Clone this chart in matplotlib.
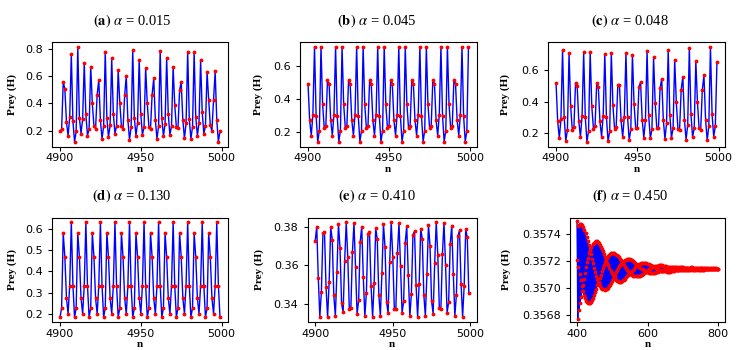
import numpy as np
import matplotlib
matplotlib.use('Agg')
import matplotlib.pyplot as plt
from matplotlib.ticker import FormatStrFormatter

plt.rcParams['mathtext.fontset'] = 'stix'

# ---- data (prey H against step n) ----
n_long = np.arange(4900, 5000)
n_short = np.arange(400, 801)

prey_a = [0.195, 0.21, 0.56, 0.505, 0.265, 0.163, 0.30, 0.76, 0.27, 0.12,
          0.195, 0.815, 0.295, 0.18, 0.285, 0.695, 0.32, 0.165, 0.215, 0.67,
          0.40, 0.235, 0.215, 0.465, 0.575, 0.28, 0.14, 0.235, 0.78, 0.295,
          0.155, 0.24, 0.73, 0.325, 0.18, 0.235, 0.645, 0.405, 0.235, 0.21,
          0.46, 0.60, 0.28, 0.135, 0.225, 0.79, 0.295, 0.165, 0.26, 0.72,
          0.32, 0.17, 0.23, 0.66, 0.40, 0.23, 0.215, 0.465, 0.585, 0.28,
          0.14, 0.235, 0.785, 0.295, 0.16, 0.25, 0.735, 0.32, 0.17, 0.235,
          0.665, 0.39, 0.225, 0.22, 0.50, 0.555, 0.28, 0.145, 0.255, 0.78,
          0.285, 0.14, 0.23, 0.78, 0.30, 0.165, 0.255, 0.715, 0.335, 0.18,
          0.235, 0.63, 0.425, 0.24, 0.20, 0.425, 0.635, 0.28, 0.12, 0.20]

prey_b = [0.493, 0.273, 0.180, 0.307, 0.715, 0.297, 0.143, 0.210, 0.715, 0.368, 0.226, 0.240, 0.513,
          0.493, 0.273, 0.180, 0.307, 0.715, 0.297, 0.143, 0.210, 0.715, 0.368, 0.226, 0.240, 0.513,
          0.493, 0.273, 0.180, 0.307, 0.715, 0.297, 0.143, 0.210, 0.715, 0.368, 0.226, 0.240, 0.513,
          0.493, 0.273, 0.180, 0.307, 0.715, 0.297, 0.143, 0.210, 0.715, 0.368, 0.226, 0.240, 0.513,
          0.493, 0.273, 0.180, 0.307, 0.715, 0.297, 0.143, 0.210, 0.715, 0.368, 0.226, 0.240, 0.513,
          0.493, 0.273, 0.180, 0.307, 0.715, 0.297, 0.143, 0.210, 0.715, 0.368, 0.226, 0.240, 0.513,
          0.493, 0.273, 0.180, 0.307, 0.715, 0.297, 0.143, 0.210, 0.715, 0.368, 0.226, 0.240, 0.513,
          0.493, 0.273, 0.180, 0.307, 0.715, 0.297, 0.143, 0.210, 0.715]

prey_c = [0.517, 0.277, 0.169, 0.287, 0.725, 0.300, 0.152, 0.220, 0.704, 0.369,
          0.220, 0.240, 0.517, 0.496, 0.275, 0.177, 0.306, 0.710, 0.300, 0.146,
          0.215, 0.712, 0.369, 0.229, 0.246, 0.515, 0.494, 0.275, 0.179, 0.310,
          0.700, 0.304, 0.148, 0.213, 0.708, 0.375, 0.229, 0.240, 0.502, 0.504,
          0.281, 0.175, 0.304, 0.708, 0.302, 0.156, 0.225, 0.696, 0.383, 0.233,
          0.233, 0.494, 0.521, 0.285, 0.171, 0.281, 0.721, 0.312, 0.167, 0.227,
          0.679, 0.390, 0.231, 0.231, 0.483, 0.544, 0.285, 0.163, 0.263, 0.727,
          0.317, 0.171, 0.231, 0.663, 0.396, 0.225, 0.223, 0.475, 0.558, 0.285,
          0.158, 0.252, 0.740, 0.321, 0.175, 0.233, 0.656, 0.396, 0.231, 0.223,
          0.475, 0.567, 0.285, 0.154, 0.248, 0.746, 0.319, 0.179, 0.244, 0.650]

prey_d = [0.184, 0.228, 0.580, 0.468, 0.275, 0.200, 0.333, 0.631, 0.333,
          0.184, 0.228, 0.580, 0.468, 0.275, 0.200, 0.333, 0.631, 0.333,
          0.184, 0.228, 0.580, 0.468, 0.275, 0.200, 0.333, 0.631, 0.333,
          0.184, 0.228, 0.580, 0.468, 0.275, 0.200, 0.333, 0.631, 0.333,
          0.184, 0.228, 0.580, 0.468, 0.275, 0.200, 0.333, 0.631, 0.333,
          0.184, 0.228, 0.580, 0.468, 0.275, 0.200, 0.333, 0.631, 0.333,
          0.184, 0.228, 0.580, 0.468, 0.275, 0.200, 0.333, 0.631, 0.333,
          0.184, 0.228, 0.580, 0.468, 0.275, 0.200, 0.333, 0.631, 0.333,
          0.184, 0.228, 0.580, 0.468, 0.275, 0.200, 0.333, 0.631, 0.333,
          0.184, 0.228, 0.580, 0.468, 0.275, 0.200, 0.333, 0.631, 0.333,
          0.184, 0.228, 0.580, 0.468, 0.275, 0.200, 0.333, 0.631, 0.333,
          0.184]

prey_e = [0.3725, 0.3800, 0.3535, 0.3335, 0.3465, 0.3765, 0.3770, 0.3488, 0.3333, 0.3515,
          0.3795, 0.3733, 0.3445, 0.3340, 0.3565, 0.3813, 0.3690, 0.3405, 0.3358, 0.3622,
          0.3822, 0.3642, 0.3373, 0.3380, 0.3670, 0.3818, 0.3590, 0.3350, 0.3420, 0.3720,
          0.3800, 0.3540, 0.3337, 0.3460, 0.3762, 0.3770, 0.3493, 0.3333, 0.3508, 0.3792,
          0.3735, 0.3448, 0.3340, 0.3560, 0.3812, 0.3695, 0.3410, 0.3355, 0.3615, 0.3822,
          0.3645, 0.3378, 0.3378, 0.3665, 0.3818, 0.3595, 0.3355, 0.3415, 0.3715, 0.3803,
          0.3548, 0.3337, 0.3455, 0.3758, 0.3775, 0.3498, 0.3335, 0.3505, 0.3788, 0.3738,
          0.3450, 0.3338, 0.3555, 0.3810, 0.3700, 0.3415, 0.3352, 0.3610, 0.3822, 0.3655,
          0.3380, 0.3375, 0.3660, 0.3820, 0.3603, 0.3357, 0.3410, 0.3708, 0.3805, 0.3555,
          0.3340, 0.3450, 0.3750, 0.3780, 0.3505, 0.3335, 0.3495, 0.3785, 0.3745, 0.3460]

# panel (f): deviation from the equilibrium, in units of 1e-6
prey_f_base = 0.357142
prey_f_dev = [350, 66, -370, 318, 13, -305, 324, -37, -255, 330, -83, -211,
              328, -124, -166, 320, -160, -120, 307, -191, -75, 287, -215, -31,
              264, -234, 10, 237, -246, 49, 207, -254, 83, 175, -255, 114,
              141, -251, 141, 107, -244, 163, 73, -230, 180, 40, -214, 193,
              8, -194, 201, -22, -172, 205, -50, -147, 203, -75, -123, 199,
              -96, -96, 190, -114, -69, 178, -129, -43, 164, -140, -18, 147,
              -147, 6, 128, -152, 28, 108, -153, 48, 87, -151, 66, 66,
              -146, 82, 45, -138, 94, 25, -128, 104, 5, -117, 112, -14,
              -103, 116, -31, -88, 118, -46, -73, 118, -60, -58, 115, -71,
              -42, 110, -80, -26, 103, -87, -11, 95, -92, 4, 85, -94,
              17, 74, -95, 29, 63, -94, 39, 50, -90, 49, 38, -85,
              56, 26, -79, 63, 14, -72, 67, 3, -64, 69, -8, -55,
              71, -18, -46, 70, -27, -36, 69, -35, -26, 65, -41, -16,
              62, -46, -7, 57, -50, 2, 51, -53, 10, 44, -55, 18,
              37, -55, 25, 30, -54, 30, 23, -52, 35, 16, -50, 39,
              9, -46, 42, 2, -42, 43, -5, -37, 44, -11, -32, 44,
              -16, -26, 43, -21, -21, 41, -25, -15, 38, -27, -9, 35,
              -30, -4, 31, -32, 1, 28, -33, 6, 23, -33, 11, 19,
              -32, 14, 14, -31, 17, 10, -29, 20, 5, -27, 22, 1,
              -25, 24, -3, -22, 25, -7, -19, 25, -10, -16, 26, -13,
              -13, 25, -15, -9, 24, -17, -6, 22, -19, -2, 20, -19,
              1, 19, -21, 4, 16, -21, 6, 13, -20, 9, 11, -20,
              11, 8, -19, 12, 6, -17, 14, 3, -16, 14, 1, -14,
              16, -2, -12, 15, -4, -10, 15, -6, -8, 15, -8, -6,
              14, -9, -3, 13, -10, -1, 13, -11, 0, 11, -11, 2,
              10, -12, 4, 8, -12, 5, 7, -12, 7, 5, -11, 7,
              3, -11, 8, 2, -10, 9, 0, -9, 9, -1, -8, 10,
              -2, -7, 10, -3, -6, 9, -5, -5, 9, -6, -3, 9,
              -6, -2, 7, -6, -1, 7, -7, 0, 6, -8, 1, 5,
              -7, 2, 4, -7, 3, 3, -7, 4, 2, -7, 5, 1,
              -6, 5, 0, -5, 5, -1, -5, 5, -1, -4, 6, -2,
              -4, 6, -3, -3, 5, -3, -2, 5, -4, -1, 5, -4,
              -1, 5, -4, 0, 4, -5, 1, 4, -5, 1, 3, -4,
              2, 2, -4, 2, 2]
prey_f = prey_f_base + np.array(prey_f_dev) * 1e-6

titles = [r'$\mathbf{(a)}$ $\alpha$ = 0.015', r'$\mathbf{(b)}$ $\alpha$ = 0.045',
          r'$\mathbf{(c)}$ $\alpha$ = 0.048', r'$\mathbf{(d)}$ $\alpha$ = 0.130',
          r'$\mathbf{(e)}$ $\alpha$ = 0.410', r'$\mathbf{(f)}$ $\alpha$ = 0.450']

W, H = 742, 350
fig = plt.figure(figsize=(W / 100, H / 100), dpi=100)

# axes boxes in pixels: left, top, right, bottom
boxes = [(52, 42, 228, 146.5), (300, 42, 476.5, 146.5), (548, 42, 725, 146.5),
         (52, 217.5, 228, 322), (307.5, 217.5, 476.5, 322), (570, 217.5, 725, 322)]
title_pos = [(132, 21), (377, 21), (630, 21), (132, 196), (377, 196), (630, 196)]
ylab_x = [17, 263, 510, 17, 264, 511]

series = [(n_long, prey_a), (n_long, prey_b), (n_long, prey_c),
          (n_long, prey_d), (n_long, prey_e), (n_short, prey_f)]

serif = 'Liberation Serif'

for i, (x, y) in enumerate(series):
    l, t, r, b = boxes[i]
    ax = fig.add_axes([l / W, 1 - b / H, (r - l) / W, (b - t) / H])
    ax.plot(x, y, color='blue', lw=1, marker='.', ms=3.5, mfc='red', mec='red')
    ax.tick_params(labelsize=8, length=3, width=0.8)
    ax.tick_params(axis='x', pad=2)
    if i < 5:
        ax.set_xticks([4900, 4950, 5000])
    else:
        ax.set_xticks([400, 600, 800])
        ax.set_yticks([0.3568, 0.3570, 0.3572, 0.3574])
        ax.yaxis.set_major_formatter(FormatStrFormatter('%.4f'))
        ax.set_ylim(0.35675, 0.35752)
    if i == 3:
        ax.set_yticks([0.2, 0.3, 0.4, 0.5, 0.6])
    ax.set_ylabel('Prey (H)', fontsize=8, fontweight='bold', family=serif)
    ax.set_xlabel('n', fontsize=8, fontweight='bold', family=serif, va='center')
    ax.yaxis.set_label_coords(ylab_x[i] / W, 1 - (t + b) / 2 / H, transform=fig.transFigure)
    ax.xaxis.set_label_coords((l + r) / 2 / W, 1 - (b + 22.5) / H, transform=fig.transFigure)
    fig.text(title_pos[i][0] / W, 1 - title_pos[i][1] / H, titles[i], ha='center', va='center',
             fontsize=10.5, family=serif)

fig.savefig('out.png', dpi=100)
